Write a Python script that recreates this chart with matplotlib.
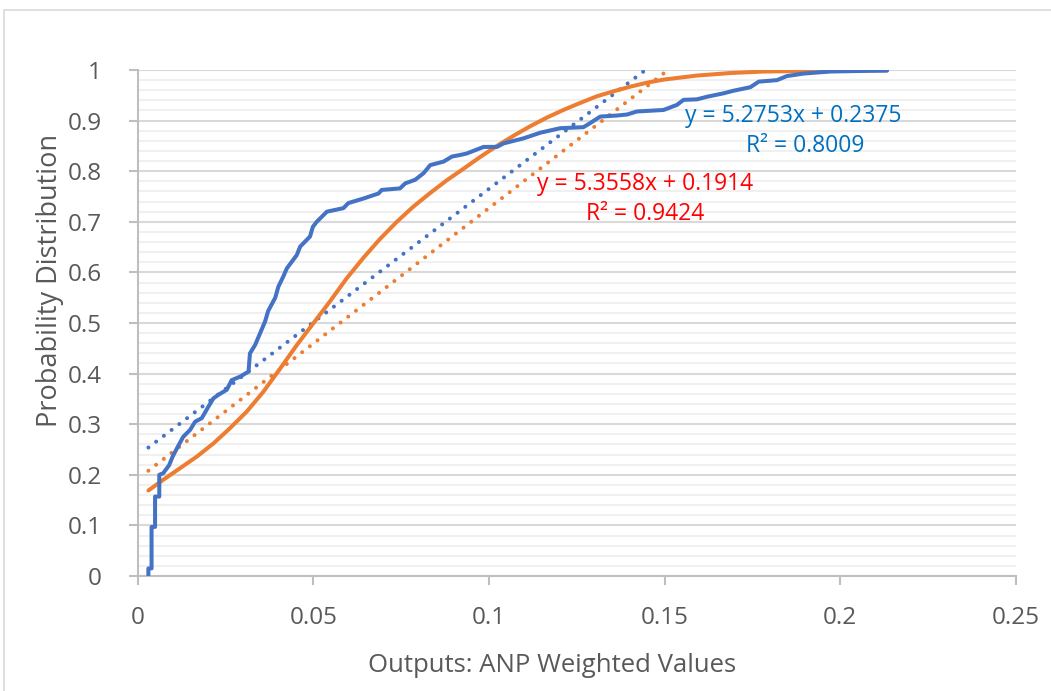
import matplotlib
matplotlib.use('Agg')
import numpy as np
import matplotlib.pyplot as plt
from matplotlib.patches import Rectangle

plt.rcParams['font.family'] = ['Open Sans', 'DejaVu Sans']

emp_x = [0.0031, 0.0031, 0.0040, 0.0040, 0.0050, 0.0050, 0.0062, 0.0062,
         0.0073, 0.0090, 0.0100, 0.0112, 0.0130, 0.0150, 0.0164, 0.0183,
         0.0202, 0.0216, 0.0230, 0.0254, 0.0268, 0.0292, 0.0316, 0.0320,
         0.0335, 0.0349, 0.0363, 0.0372, 0.0392, 0.0401, 0.0415, 0.0425,
         0.0439, 0.0453, 0.0463, 0.0477, 0.0491, 0.0499, 0.0510, 0.0539,
         0.0586, 0.0600, 0.0643, 0.0686, 0.0695, 0.0747, 0.0762, 0.0790,
         0.0814, 0.0833, 0.0871, 0.0895, 0.0918, 0.0937, 0.0985, 0.1023,
         0.1042, 0.1099, 0.1146, 0.1203, 0.1269, 0.1288, 0.1317, 0.1364,
         0.1393, 0.1421, 0.1497, 0.1535, 0.1554, 0.1592, 0.1620, 0.1668,
         0.1696, 0.1744, 0.1768, 0.1820, 0.1848, 0.1896, 0.1972, 0.2133]
emp_p = [0.002, 0.015, 0.015, 0.097, 0.097, 0.157, 0.157, 0.200,
         0.203, 0.219, 0.236, 0.252, 0.275, 0.289, 0.305, 0.312,
         0.335, 0.351, 0.358, 0.368, 0.387, 0.394, 0.404, 0.440,
         0.457, 0.480, 0.503, 0.524, 0.550, 0.572, 0.592, 0.608,
         0.621, 0.634, 0.651, 0.661, 0.671, 0.690, 0.700, 0.720,
         0.727, 0.737, 0.746, 0.756, 0.763, 0.766, 0.776, 0.783,
         0.796, 0.812, 0.819, 0.829, 0.832, 0.835, 0.848, 0.848,
         0.855, 0.865, 0.876, 0.885, 0.887, 0.895, 0.908, 0.910,
         0.912, 0.918, 0.921, 0.931, 0.941, 0.942, 0.947, 0.954,
         0.959, 0.966, 0.977, 0.980, 0.988, 0.993, 0.997, 0.999]

# fitted distribution
fit_x = [0.0031, 0.0073, 0.0121, 0.0169, 0.0216, 0.0263, 0.0311, 0.0358,
         0.0406, 0.0453, 0.0501, 0.0548, 0.0595, 0.0643, 0.0690, 0.0738,
         0.0785, 0.0833, 0.0880, 0.0928, 0.0975, 0.1023, 0.1070, 0.1118,
         0.1165, 0.1212, 0.1260, 0.1307, 0.1355, 0.1402, 0.1450, 0.1497,
         0.1592, 0.1687, 0.1782, 0.1900, 0.2000, 0.2133]
fit_p = [0.169, 0.190, 0.213, 0.236, 0.262, 0.292, 0.325, 0.364,
         0.410, 0.456, 0.500, 0.543, 0.588, 0.629, 0.666, 0.700,
         0.730, 0.757, 0.782, 0.805, 0.828, 0.850, 0.870, 0.889,
         0.906, 0.921, 0.935, 0.948, 0.958, 0.967, 0.975, 0.981,
         0.989, 0.994, 0.997, 0.998, 0.999, 0.999]

# linear trendlines (coefficients from the chart labels)
trend_emp = (5.2753, 0.2375, 0.8009)
trend_fit = (5.3558, 0.1914, 0.9424)

x_ticks = [0, 0.05, 0.1, 0.15, 0.2, 0.25]
x_labels = ['0', '0.05', '0.1', '0.15', '0.2', '0.25']
y_ticks = [0, 0.1, 0.2, 0.3, 0.4, 0.5, 0.6, 0.7, 0.8, 0.9, 1]
y_labels = ['0', '0.1', '0.2', '0.3', '0.4', '0.5', '0.6', '0.7', '0.8',
            '0.9', '1']

blue = '#4472C4'
orange = '#ED7D31'
grey = '#595959'

fig = plt.figure(figsize=(10.51, 6.91), dpi=100)
ax = fig.add_axes([137.5 / 1051, 115 / 691, (1016 - 137.5) / 1051, 506 / 691])

# chart border
fig.add_artist(Rectangle((4 / 1051, -0.1), 1.2, 1.1 - 10 / 691,
                         transform=fig.transFigure, fill=False,
                         edgecolor='#d9d9d9', lw=1.2))

lw = 2.9
ax.plot(emp_x, emp_p, color=blue, lw=lw, solid_joinstyle='round',
        solid_capstyle='round', zorder=4)
ax.plot(fit_x, fit_p, color=orange, lw=lw, solid_joinstyle='round',
        solid_capstyle='round', zorder=3)

dots = (0, (0.01, 2.4))
for (m, b, _), xs, col in [(trend_emp, emp_x, blue), (trend_fit, fit_x, orange)]:
    tx = np.array([min(xs), max(xs)])
    ax.plot(tx, m * tx + b, color=col, lw=lw, linestyle=dots,
            dash_capstyle='round', zorder=2)

ax.set_xlim(0, 0.25)
ax.set_ylim(0, 1)
ax.set_xticks(x_ticks, x_labels)
ax.set_yticks(y_ticks, y_labels)
ax.set_yticks(np.arange(0.02, 1.0, 0.02), minor=True)

ax.grid(axis='y', which='major', color='#d9d9d9', lw=1.5, zorder=0)
ax.grid(axis='y', which='minor', color='#f0f0f0', lw=1.5, zorder=0)
ax.set_axisbelow(True)

for s in ['top', 'right']:
    ax.spines[s].set_visible(False)
for s in ['left', 'bottom']:
    ax.spines[s].set_color('#bfbfbf')
    ax.spines[s].set_linewidth(1.5)

ax.tick_params(axis='both', which='major', colors='#bfbfbf', width=1.5,
               length=6.5, labelcolor=grey, labelsize=17.5)
ax.tick_params(axis='x', pad=15)
ax.tick_params(axis='y', pad=19)
ax.tick_params(axis='y', which='minor', length=0)

ax.set_xlabel('Outputs: ANP Weighted Values', fontsize=18.5, color=grey)
ax.xaxis.set_label_coords(0.472, -0.153)
ax.set_ylabel('Probability Distribution', fontsize=19.5, color=grey)
ax.yaxis.set_label_coords(-0.084, 0.585)

# trendline labels
fs = 16.5
ax.text(0.1865, 0.910, 'y = %.4fx + %.4f' % trend_emp[:2], color='#0070C0',
        fontsize=fs, ha='center', va='center')
ax.text(0.190, 0.850, 'R² = %.4f' % trend_emp[2], color='#0070C0',
        fontsize=fs, ha='center', va='center')
ax.text(0.1445, 0.775, 'y = %.4fx + %.4f' % trend_fit[:2], color='#FF0000',
        fontsize=fs, ha='center', va='center')
ax.text(0.1445, 0.715, 'R² = %.4f' % trend_fit[2], color='#FF0000',
        fontsize=fs, ha='center', va='center')

fig.savefig('out.png', dpi=100)
